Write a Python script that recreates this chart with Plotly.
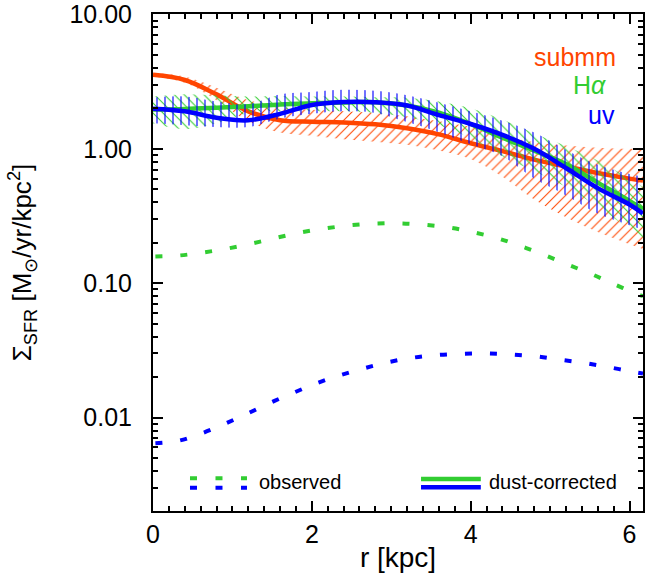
import plotly.graph_objects as go

# ---------------- data ----------------
r = [0.0, 0.4, 0.8, 1.2, 1.6, 2.0, 2.4, 2.8, 3.2, 3.6, 4.0, 4.4, 4.8, 5.2, 5.6, 6.0, 6.17]

submm = [3.55, 3.25, 2.54, 1.90, 1.63, 1.59, 1.57, 1.52, 1.42, 1.28, 1.10, 0.96, 0.83, 0.74, 0.66, 0.60, 0.58]
submm_hi = [3.65, 3.45, 2.85, 2.30, 2.05, 1.95, 1.90, 1.85, 1.75, 1.60, 1.45, 1.25, 1.12, 1.06, 1.02, 1.00, 0.99]
submm_lo = [3.45, 3.10, 2.30, 1.60, 1.32, 1.25, 1.18, 1.13, 1.07, 0.97, 0.84, 0.62, 0.42, 0.31, 0.24, 0.195, 0.18]

halpha = [1.96, 1.98, 2.02, 2.07, 2.14, 2.18, 2.21, 2.22, 2.10, 1.86, 1.53, 1.21, 0.97, 0.77, 0.56, 0.41, 0.355]
halpha_hi = [2.45, 2.55, 2.50, 2.45, 2.47, 2.45, 2.45, 2.42, 2.40, 2.25, 2.00, 1.65, 1.30, 1.05, 0.82, 0.60, 0.52]
halpha_lo = [1.55, 1.40, 1.55, 1.85, 1.90, 1.90, 1.90, 1.85, 1.72, 1.50, 1.20, 0.88, 0.68, 0.52, 0.37, 0.25, 0.21]

uv = [1.99, 1.90, 1.70, 1.63, 1.82, 2.12, 2.23, 2.22, 2.10, 1.78, 1.53, 1.27, 1.00, 0.72, 0.51, 0.385, 0.33]
uv_hi = [2.40, 2.45, 2.25, 2.15, 2.55, 2.65, 2.75, 2.70, 2.50, 2.20, 1.90, 1.62, 1.32, 0.98, 0.76, 0.65, 0.62]
uv_lo = [1.55, 1.50, 1.45, 1.45, 1.68, 1.82, 1.90, 1.85, 1.58, 1.33, 1.08, 0.88, 0.60, 0.45, 0.33, 0.27, 0.25]

r_obs_ha = [0.03, 0.34, 0.65, 0.96, 1.27, 1.57, 1.87, 2.18, 2.49, 2.81, 3.11, 3.43, 3.74, 4.04,
            4.35, 4.64, 4.93, 5.23, 5.52, 5.80, 6.10, 6.17]
obs_ha = [0.158, 0.161, 0.170, 0.182, 0.199, 0.219, 0.239, 0.256, 0.270, 0.278, 0.279, 0.272, 0.259,
          0.239, 0.215, 0.188, 0.162, 0.137, 0.117, 0.0986, 0.083, 0.080]

r_obs_uv = [0.03, 0.33, 0.63, 0.92, 1.20, 1.49, 1.78, 2.06, 2.36, 2.66, 2.97, 3.27, 3.58, 3.90,
            4.21, 4.51, 4.83, 5.14, 5.45, 5.76, 6.07, 6.17]
obs_uv = [0.00645, 0.00674, 0.0077, 0.00908, 0.0108, 0.0130, 0.0154, 0.0180, 0.0207, 0.0233, 0.0259,
          0.0279, 0.0292, 0.0298, 0.0300, 0.0295, 0.0285, 0.0269, 0.0254, 0.0236, 0.0218, 0.0213]

y_tickvals = [0.01, 0.1, 1, 10]
y_ticktext = ["0.01", "0.10", "1.00", "10.00"]
x_tickvals = [0, 2, 4, 6]

# ---------------- styles ----------------
RED = "#FF4500"
GREEN = "#32CD32"
BLUE = "#0000FF"
FONT = "Liberation Sans"

fig = go.Figure()


def band(x, hi, lo, color, shape, size, solidity):
    fig.add_trace(go.Scatter(x=x, y=hi, mode="lines", line=dict(width=0, shape="spline"),
                             hoverinfo="skip", showlegend=False))
    fig.add_trace(go.Scatter(x=x, y=lo, mode="lines", line=dict(width=0, shape="spline"),
                             fill="tonexty", fillcolor="rgba(0,0,0,0)",
                             fillpattern=dict(shape=shape, fgcolor=color, bgcolor="rgba(0,0,0,0)",
                                              size=size, solidity=solidity, fgopacity=1),
                             hoverinfo="skip", showlegend=False))


def line(x, y, color, dash="solid", width=4.5):
    fig.add_trace(go.Scatter(x=x, y=y, mode="lines",
                             line=dict(color=color, width=width, dash=dash, shape="spline"),
                             showlegend=False))


band(r, submm_hi, submm_lo, RED, "/", 7, 0.15)
line(r, submm, RED)
band(r, halpha_hi, halpha_lo, GREEN, "\\", 7, 0.15)
line(r, halpha, GREEN)
band(r, uv_hi, uv_lo, BLUE, "|", 8, 0.14)
line(r, uv, BLUE)

line(r_obs_ha, obs_ha, GREEN, dash="7px,18px", width=4)
line(r_obs_uv, obs_uv, BLUE, dash="7px,18px", width=4)

# ---------------- legends (custom, inside the plot) ----------------
shapes = [
    dict(type="line", xref="paper", yref="paper", x0=0.0755, x1=0.1918, y0=0.0658, y1=0.0658,
         line=dict(color=GREEN, width=4, dash="7px,18.5px")),
    dict(type="line", xref="paper", yref="paper", x0=0.0755, x1=0.1918, y0=0.0469, y1=0.0469,
         line=dict(color=BLUE, width=4, dash="7px,18.5px")),
    dict(type="line", xref="paper", yref="paper", x0=0.547, x1=0.669, y0=0.0644, y1=0.0644,
         line=dict(color=GREEN, width=4.5)),
    dict(type="line", xref="paper", yref="paper", x0=0.547, x1=0.669, y0=0.0477, y1=0.0477,
         line=dict(color=BLUE, width=4.5)),
]

annotations = [
    dict(text="observed", x=0.2122, y=0.059, xref="paper", yref="paper", xanchor="left",
         yanchor="middle", showarrow=False, font=dict(family=FONT, size=20, color="black")),
    dict(text="dust-corrected", x=0.6816, y=0.059, xref="paper", yref="paper", xanchor="left",
         yanchor="middle", showarrow=False, font=dict(family=FONT, size=20, color="black")),
    dict(text="submm", x=0.949, y=0.9135, xref="paper", yref="paper", xanchor="right",
         yanchor="middle", showarrow=False, font=dict(family=FONT, size=25, color=RED)),
    dict(text="H<i>α</i>", x=0.9286, y=0.857, xref="paper", yref="paper", xanchor="right",
         yanchor="middle", showarrow=False, font=dict(family=FONT, size=25, color=GREEN)),
    dict(text="uv", x=0.947, y=0.797, xref="paper", yref="paper", xanchor="right",
         yanchor="middle", showarrow=False, font=dict(family=FONT, size=25, color=BLUE)),
]

axis_common = dict(showline=True, linecolor="black", linewidth=2, mirror="allticks",
                   ticks="inside", tickcolor="black", tickwidth=2, ticklen=10,
                   showgrid=False, zeroline=False,
                   tickfont=dict(family=FONT, size=25, color="black"))

fig.update_layout(
    width=647, height=580,
    margin=dict(l=153, r=4, t=14, b=69, autoexpand=False),
    paper_bgcolor="white", plot_bgcolor="white",
    font=dict(family=FONT, color="black"),
    showlegend=False,
    shapes=shapes,
    annotations=annotations,
    xaxis=dict(range=[0, 6.17], tickmode="array", tickvals=x_tickvals,
               minor=dict(ticks="inside", dtick=0.2, tick0=0, ticklen=5, tickwidth=2,
                          tickcolor="black", showgrid=False),
               ticklabelstandoff=0,
               title=dict(text="r [kpc]", font=dict(family=FONT, size=28), standoff=0),
               **axis_common),
    yaxis=dict(type="log", range=[-2.695, 1.003], tickmode="array", tickvals=y_tickvals,
               ticktext=y_ticktext,
               minor=dict(ticks="inside", tickmode="array",
                          tickvals=[m * 10 ** e for e in (-3, -2, -1, 0) for m in range(2, 10)],
                          ticklen=5, tickwidth=2, tickcolor="black", showgrid=False),
               ticklabelstandoff=14,
               title=dict(text="Σ<sub>SFR</sub> [M<sub>⊙</sub>/yr/kpc<sup>2</sup>]",
                          font=dict(family=FONT, size=26), standoff=30),
               **axis_common),
)

fig.write_html("out.html", config={"displayModeBar": False},
               post_script="document.body.style.margin='0';document.body.style.overflow='hidden';")
